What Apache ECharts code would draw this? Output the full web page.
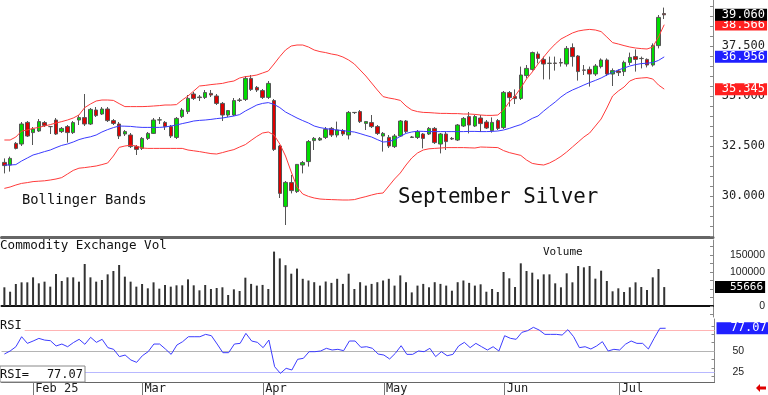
<!DOCTYPE html>
<html><head><meta charset="utf-8">
<script src="https://cdn.jsdelivr.net/npm/echarts@6/dist/echarts.min.js"></script>
<style>html,body{margin:0;padding:0;background:#fff;}#c{width:768px;height:395px;}</style>
</head><body><div id="c"></div>
<script>
const dates = [
'2025-01-27','2025-01-28','2025-01-29','2025-01-30','2025-01-31',
'2025-02-03','2025-02-04','2025-02-05','2025-02-06','2025-02-07','2025-02-10','2025-02-11','2025-02-12','2025-02-13','2025-02-14',
'2025-02-18','2025-02-19','2025-02-20','2025-02-21','2025-02-24','2025-02-25','2025-02-26','2025-02-27','2025-02-28',
'2025-03-03','2025-03-04','2025-03-05','2025-03-06','2025-03-07','2025-03-10','2025-03-11','2025-03-12','2025-03-13','2025-03-14',
'2025-03-17','2025-03-18','2025-03-19','2025-03-20','2025-03-21','2025-03-24','2025-03-25','2025-03-26','2025-03-27','2025-03-28','2025-03-31',
'2025-04-01','2025-04-02','2025-04-03','2025-04-04','2025-04-07','2025-04-08','2025-04-09','2025-04-10','2025-04-11','2025-04-14',
'2025-04-15','2025-04-16','2025-04-17','2025-04-21','2025-04-22','2025-04-23','2025-04-24','2025-04-25','2025-04-28','2025-04-29','2025-04-30',
'2025-05-01','2025-05-02','2025-05-05','2025-05-06','2025-05-07','2025-05-08','2025-05-09','2025-05-12','2025-05-13','2025-05-14',
'2025-05-15','2025-05-16','2025-05-19','2025-05-20','2025-05-21','2025-05-22','2025-05-23','2025-05-27','2025-05-28','2025-05-29','2025-05-30',
'2025-06-02','2025-06-03','2025-06-04','2025-06-05','2025-06-06','2025-06-09','2025-06-10','2025-06-11','2025-06-12','2025-06-13',
'2025-06-16','2025-06-17','2025-06-18','2025-06-20','2025-06-23','2025-06-24','2025-06-25','2025-06-26','2025-06-27','2025-06-30',
'2025-07-01','2025-07-02','2025-07-03','2025-07-07','2025-07-08','2025-07-09','2025-07-10','2025-07-11','2025-07-14'
];
const opens = [
31.68,31.55,32.63,32.60,33.68,33.17,33.25,33.67,33.47,33.80,
33.22,33.47,33.17,33.80,33.92,33.60,34.30,34.10,34.35,33.77,
33.60,33.10,33.05,32.47,32.38,32.88,33.13,33.80,33.68,33.47,
32.93,33.97,34.22,35.10,34.95,34.93,35.13,35.00,34.63,34.05,
34.05,34.80,34.83,35.88,35.43,35.27,34.93,34.77,32.50,29.47,
30.67,30.22,31.55,31.72,32.77,32.80,32.93,33.38,33.05,33.27,
33.05,34.17,34.22,33.63,33.67,33.47,33.00,32.93,32.47,33.00,
33.75,32.93,32.93,33.10,33.10,33.38,32.60,33.10,32.88,32.80,
33.50,33.97,33.50,33.90,33.70,33.27,33.77,33.42,35.17,34.97,
34.88,36.02,36.33,37.10,36.83,36.63,36.65,36.67,36.60,37.42,
37.00,36.30,36.33,36.10,36.47,36.80,36.10,36.25,36.22,36.68,
36.97,36.88,36.83,36.55,37.52,39.12];
const closes = [
31.52,31.88,32.38,33.60,33.00,33.35,33.72,33.53,33.47,33.10,
33.38,33.17,33.67,33.92,33.60,34.33,34.02,34.35,33.77,33.63,
33.00,33.22,32.47,32.33,32.88,33.13,33.80,33.81,33.47,33.00,
33.88,34.30,34.88,34.88,34.92,35.17,35.05,34.63,34.05,34.27,
34.77,34.78,35.88,35.33,35.30,34.93,35.63,32.33,30.13,30.68,
30.27,31.58,31.67,32.72,32.88,32.88,33.33,33.05,33.30,33.10,
34.18,34.18,33.72,33.72,33.47,33.13,33.13,32.50,33.00,33.75,
33.22,32.95,33.22,32.88,33.38,32.67,33.10,32.72,32.85,33.55,
33.88,33.55,33.97,33.62,33.40,33.68,33.38,35.18,34.92,34.87,
36.05,36.38,37.17,36.88,36.60,36.64,36.63,36.65,37.38,36.97,
36.22,36.29,36.10,36.50,36.80,36.10,36.27,36.17,36.68,36.93,
36.83,36.87,36.55,37.52,38.93,39.06];
const lows = [
31.13,31.22,32.33,32.50,32.95,32.55,33.20,33.45,33.10,33.05,
33.15,32.67,33.10,33.55,33.50,33.55,33.95,34.05,33.70,33.55,
32.85,33.00,32.40,32.05,32.30,32.80,33.10,33.60,33.30,32.90,
32.85,33.90,34.10,34.80,34.75,34.85,34.95,34.55,33.75,33.95,
34.00,34.70,34.75,35.25,35.20,34.85,34.85,32.25,29.90,28.55,
30.13,30.15,31.13,31.47,32.30,32.75,32.85,32.95,32.93,33.00,
32.83,34.10,33.65,33.30,33.40,33.05,32.22,32.40,32.40,32.95,
33.15,32.90,32.85,32.38,33.05,32.60,32.13,32.30,32.80,32.75,
33.45,33.13,33.45,33.20,33.35,33.17,33.30,33.35,34.47,34.60,
34.80,35.88,36.27,36.63,35.83,35.83,36.27,36.47,36.47,36.47,
35.77,36.05,35.47,36.00,36.38,36.00,35.50,36.00,36.00,36.55,
36.22,36.38,36.43,36.47,37.38,38.85];
const highs = [
31.88,31.97,32.70,33.70,33.75,33.45,33.85,33.75,33.50,33.90,
33.45,33.55,33.75,34.05,35.10,34.40,34.45,34.45,34.45,33.85,
33.70,33.30,33.15,32.55,32.95,33.20,33.90,33.95,33.75,33.55,
33.95,34.40,35.05,35.20,35.05,35.30,35.30,35.10,34.70,34.30,
34.90,34.90,36.00,36.05,35.50,35.35,35.75,34.85,32.55,30.75,
31.05,31.60,31.75,32.80,32.95,32.95,33.45,33.45,33.72,33.35,
34.25,34.20,34.30,33.75,34.05,33.55,33.20,33.05,33.10,33.80,
33.80,33.00,33.30,33.15,33.45,33.45,33.15,33.20,32.95,33.60,
33.95,34.20,34.05,34.05,33.80,33.93,33.85,35.25,35.25,35.33,
36.47,36.55,37.22,37.22,36.97,36.97,36.97,36.88,37.50,37.63,
37.05,36.55,36.47,36.60,36.88,36.88,36.38,36.33,36.77,37.17,
37.33,36.97,36.88,37.63,39.05,39.42];
const bbUpper = [
32.80,32.80,32.95,33.25,33.30,33.38,33.43,33.50,33.57,33.65,
33.72,33.80,33.90,34.05,34.42,34.60,34.75,34.80,34.80,34.78,
34.62,34.47,34.47,34.47,34.47,34.48,34.50,34.52,34.55,34.55,
34.57,34.80,35.00,35.25,35.50,35.53,35.57,35.60,35.63,35.70,
35.75,35.90,35.97,36.00,36.05,36.15,36.25,36.60,36.97,37.30,
37.50,37.55,37.55,37.45,37.30,37.22,37.17,37.10,37.05,36.95,
36.80,36.60,36.30,36.00,35.65,35.30,34.97,34.90,34.85,34.78,
34.50,34.30,34.22,34.18,34.17,34.15,34.13,34.13,34.12,34.12,
34.10,34.10,34.08,34.05,34.03,34.03,34.05,34.30,34.70,35.00,
35.40,35.85,36.20,36.60,36.95,37.30,37.60,37.85,38.00,38.15,
38.25,38.30,38.33,38.30,38.22,37.95,37.67,37.60,37.52,37.45,
37.40,37.37,37.35,37.45,37.95,38.566];
const bbMiddle = [
31.55,31.55,31.57,31.75,31.90,32.05,32.13,32.22,32.30,32.42,
32.53,32.60,32.70,32.82,32.90,32.96,33.05,33.20,33.32,33.42,
33.50,33.49,33.48,33.45,33.43,33.43,33.43,33.43,33.45,33.50,
33.55,33.62,33.68,33.75,33.78,33.80,33.83,33.87,33.90,33.95,
34.00,34.07,34.25,34.40,34.55,34.63,34.67,34.58,34.42,34.20,
34.05,33.90,33.77,33.65,33.50,33.42,33.37,33.33,33.30,33.27,
33.23,33.20,33.12,33.03,32.95,32.82,32.70,32.72,32.82,32.98,
33.13,33.20,33.24,33.23,33.22,33.22,33.22,33.22,33.22,33.22,
33.22,33.23,33.23,33.22,33.22,33.23,33.25,33.30,33.38,33.48,
33.57,33.72,33.88,34.00,34.25,34.48,34.70,34.95,35.15,35.30,
35.42,35.55,35.67,35.78,35.90,36.05,36.18,36.30,36.40,36.50,
36.57,36.62,36.64,36.67,36.78,36.956];
const bbLower = [
30.38,30.45,30.55,30.63,30.67,30.72,30.74,30.76,30.80,30.85,
30.92,31.10,31.28,31.39,31.42,31.46,31.50,31.57,31.65,32.00,
32.43,32.50,32.54,32.50,32.40,32.38,32.38,32.38,32.38,32.38,
32.38,32.38,32.30,32.26,32.22,32.17,32.12,32.10,32.17,32.25,
32.32,32.45,32.57,32.78,32.98,33.15,33.20,33.05,32.60,32.00,
31.20,30.45,30.10,29.98,29.90,29.85,29.83,29.82,29.81,29.80,
29.80,29.82,29.90,29.97,30.05,30.12,30.15,30.50,30.85,31.15,
31.55,31.90,32.15,32.30,32.36,32.38,32.40,32.42,32.42,32.42,
32.42,32.41,32.40,32.45,32.44,32.43,32.42,32.27,32.17,32.10,
32.03,31.80,31.63,31.58,31.55,31.65,31.80,31.98,32.20,32.45,
32.70,32.95,33.15,33.50,33.85,34.40,35.00,35.25,35.45,35.75,
35.87,35.90,35.92,35.85,35.55,35.345];
const volumes = [
55000,42000,64700,69600,69600,84300,66700,71600,56900,94100,
73500,84300,84300,71600,123500,84300,71600,76500,93100,102900,
120600,86300,71600,56900,64700,52000,69600,51000,61800,56900,
60800,60800,78400,60800,46100,61800,50000,52900,55000,32400,
49000,44100,83300,65000,60000,62000,50000,160000,140000,120000,
95000,110000,80000,75000,70000,60000,72000,68000,80000,65000,
95000,50000,70000,60000,65000,70000,75000,80000,60000,90000,
70000,40000,60000,65000,55000,70000,65000,60000,45000,70000,
75000,68000,60000,63800,42000,50000,41200,100000,81400,55900,
125500,102900,98000,78400,93100,93100,66700,55000,96100,69600,
117600,113700,117600,80400,103900,73500,43200,52000,41200,55000,
69600,55900,47100,84300,108800,55666];
const rsi = [
46.4,50,55.1,67,59.1,61.9,65,63,62.3,56,
58.3,55.1,60,63.9,58,66.3,60.3,63.9,54,52,
43.3,45.2,39.3,36.5,44.4,49.2,58.3,58.3,52.4,46,
57.1,61.1,67,67,67,69.8,68.2,58.3,48,48,
58.3,59.1,71,61.9,60.3,54,63.1,31.3,23.4,29.4,
27.4,40.1,41.3,49.2,49.2,50,53.2,51.2,52,50.4,
61.9,61.9,54.4,55.1,53.2,46.4,45.2,40.5,47.3,56.3,
46,46,50,49.2,53.2,43.3,49.2,44.4,46,56,
60.3,54,59.1,55.1,51.2,55.1,50,68.2,65.1,63.9,
72.2,74.2,78.2,75,69.8,69.8,69.8,69,75.4,67,
54,55.1,52.4,56,61.1,50,52,51.2,58,61.9,
59.1,59.1,52.4,65.1,77,77.07];
const monthTickDates = ['2025-02-03','2025-03-03','2025-04-01','2025-05-01','2025-06-02','2025-07-01'];
const monthTickLabels = ['Feb 25','Mar','Apr','May','Jun','Jul'];
const priceTicks = [30, 32.5, 35, 37.5];
const priceMinorTicks = [28,28.5,29,29.5,30,30.5,31,31.5,32,32.5,33,33.5,34,34.5,35,35.5,36,36.5,37,37.5,38,38.5,39,39.5];
const volumeTicks = [0, 50000, 100000, 150000];
const volumeMinorTicks = [-25000,0,25000,50000,75000,100000,125000,150000,175000];
const rsiTicks = [25, 50, 75];
const rsiMinorTicks = [20,30,40,50,60,70,80];
const rsiLevels = [75, 50, 25];
const rsiLevelColors = ['#ffb4b4', '#b4b4b4', '#b8b8ff'];
const emptySlots = 8;

const MONO = '"DejaVu Sans Mono", monospace';
const SANS = '"Liberation Sans", Arial, sans-serif';
const n = dates.length;
const categories = dates.concat(Array.from({length: emptySlots}, (_, k) => 'slot' + k));
const tickIdx = monthTickDates.map(d => dates.indexOf(d));
const candles = dates.map((d, i) => [opens[i], closes[i], lows[i], highs[i]]);

function boxLabel(text, bg, padLeft, fs) {
  return {show: true, position: 'end', distance: 2, formatter: text, opacity: 1,
    color: '#fff', backgroundColor: bg, fontFamily: MONO, fontSize: fs || 12,
    lineHeight: 12, padding: [0, 2, 0, padLeft]};
}
function lastLabel(value, bg, text, padLeft, z, fs) {
  return {
    silent: true, symbol: ['none', 'none'], z: z, animation: false,
    lineStyle: {color: 'rgba(0,0,0,0)', width: 0.01, type: 'solid'},
    emphasis: {disabled: true},
    data: [{yAxis: value}],
    label: boxLabel(text, bg, padLeft, fs)
  };
}

const chart = echarts.init(document.getElementById('c'), null, {renderer: 'canvas'});
const grids = [
  {left: 1.5, right: 53.5, top: 0, height: 237},
  {left: 1.5, right: 53.5, top: 240, height: 77},
  {left: 1.5, right: 53.5, top: 319, height: 63}
];
function xAx(gi, lineColor, lineWidth, withLabels) {
  return {
    type: 'category', gridIndex: gi, data: categories, boundaryGap: true,
    axisLine: {show: true, lineStyle: {color: lineColor, width: lineWidth}},
    axisTick: withLabels ? {show: true, alignWithLabel: true, length: 13,
      interval: (i) => tickIdx.includes(i), lineStyle: {color: '#777'}} : {show: false},
    axisLabel: withLabels ? {show: true, interval: (i) => tickIdx.includes(i),
      formatter: (v) => monthTickLabels[monthTickDates.indexOf(v)] || '',
      align: 'left', margin: 1, padding: [0, 0, 0, 2], fontFamily: MONO, fontSize: 12, color: '#222'} : {show: false},
    splitLine: {show: false}
  };
}
function yAx(gi, min, max, labels, minor, fmt, align, margin, font, fs) {
  return {
    type: 'value', gridIndex: gi, position: 'right', min: min, max: max, scale: true,
    axisLine: {show: true, lineStyle: {color: '#888'}},
    axisTick: {show: true, inside: true, length: 3, customValues: minor, lineStyle: {color: '#888'}},
    axisLabel: {show: true, customValues: labels, formatter: fmt, align: align, margin: margin,
      fontFamily: font, fontSize: fs, color: '#222'},
    splitLine: {show: false}
  };
}
const lastRsi = rsi[n - 1];
const option = {
  animation: false,
  backgroundColor: '#fff',
  grid: grids,
  xAxis: [xAx(0, '#666', 3, false), xAx(1, '#111', 2, false), xAx(2, '#666', 1, true)],
  yAxis: [
    yAx(0, 27.95, 39.8, priceTicks, priceMinorTicks, v => v.toFixed(3), 'right', 52, MONO, 12),
    yAx(1, -32353, 194118, volumeTicks, volumeMinorTicks, v => String(v), 'right', 52, SANS, 10.5),
    yAx(2, 13.1, 88.1, rsiTicks, rsiMinorTicks, v => String(v), 'left', 18, SANS, 10.5)
  ],
  series: [
    {type: 'line', xAxisIndex: 0, yAxisIndex: 0, data: bbUpper, symbol: 'none', silent: true,
      lineStyle: {color: '#ff3b3b', width: 1}, markLine: lastLabel(bbUpper[n-1], '#ff2020', bbUpper[n-1].toFixed(3), 6.7, 5)},
    {type: 'line', xAxisIndex: 0, yAxisIndex: 0, data: bbMiddle, symbol: 'none', silent: true,
      lineStyle: {color: '#3b3bff', width: 1}, markLine: lastLabel(bbMiddle[n-1], '#2020ff', bbMiddle[n-1].toFixed(3), 6.7, 5)},
    {type: 'line', xAxisIndex: 0, yAxisIndex: 0, data: bbLower, symbol: 'none', silent: true,
      lineStyle: {color: '#ff3b3b', width: 1}, markLine: lastLabel(bbLower[n-1], '#ff2020', bbLower[n-1].toFixed(3), 6.7, 5)},
    {type: 'candlestick', xAxisIndex: 0, yAxisIndex: 0, data: candles, barWidth: 4,
      itemStyle: {color: '#00dd00', color0: '#dd0000', borderColor: '#555', borderColor0: '#555', borderWidth: 1},
      markLine: lastLabel(closes[n-1], '#000', closes[n-1].toFixed(3), 6.7, 10)},
    {type: 'bar', xAxisIndex: 1, yAxisIndex: 1, data: volumes, barWidth: 2, silent: true,
      itemStyle: {color: '#333'},
      markLine: lastLabel(volumes[n-1], '#000', String(volumes[n-1]), 15, 10, 11)},
    {type: 'line', xAxisIndex: 2, yAxisIndex: 2, data: rsi, symbol: 'none', silent: true,
      lineStyle: {color: '#3c3cff', width: 1},
      markLine: {
        silent: true, symbol: ['none', 'none'], z: 1, animation: false,
        lineStyle: {type: 'solid', width: 1},
        emphasis: {disabled: true},
        data: rsiLevels.map((v, k) => ({yAxis: v, lineStyle: {color: rsiLevelColors[k], type: 'solid', width: 1}, label: {show: false}}))
          .concat([{yAxis: lastRsi, lineStyle: {color: 'rgba(0,0,0,0)', width: 0.01},
            label: boxLabel(lastRsi.toFixed(2), '#2020ff', 14, 12)}])
      }}
  ],
  graphic: [
    {type: 'text', left: 22, top: 193, z: 100, style: {text: 'Bollinger Bands', font: '13.8px ' + MONO, fill: '#111'}},
    {type: 'text', left: 398, top: 187, z: 100, style: {text: 'September Silver', font: '20.8px ' + MONO, fill: '#111'}},
    {type: 'text', left: 0, top: 239, z: 100, style: {text: 'Commodity Exchange Vol', font: '12.6px ' + MONO, fill: '#111'}},
    {type: 'text', left: 543, top: 247, z: 100, style: {text: 'Volume', font: '11px ' + MONO, fill: '#111'}},
    {type: 'text', left: 0, top: 320, z: 100, style: {text: 'RSI', font: '12px ' + MONO, fill: '#111', backgroundColor: '#fff', padding: [0, 3, 0, 0]}},
    {type: 'rect', z: 100, shape: {x: 0, y: 366, width: 85, height: 16}, style: {fill: '#fff', stroke: '#888', lineWidth: 1}},
    {type: 'text', left: 0, top: 369, z: 101, style: {text: 'RSI=', font: '12px ' + MONO, fill: '#111'}},
    {type: 'text', right: 768 - 83, top: 369, z: 101, style: {text: lastRsi.toFixed(2), font: '12px ' + MONO, fill: '#111'}},
    {type: 'polygon', z: 100, shape: {points: [[756, 388], [760, 384], [760, 386.5], [766, 386.5], [766, 389.5], [760, 389.5], [760, 392]]}, style: {fill: '#e00000'}}
  ]
};
chart.setOption(option);
</script>
</body></html>
